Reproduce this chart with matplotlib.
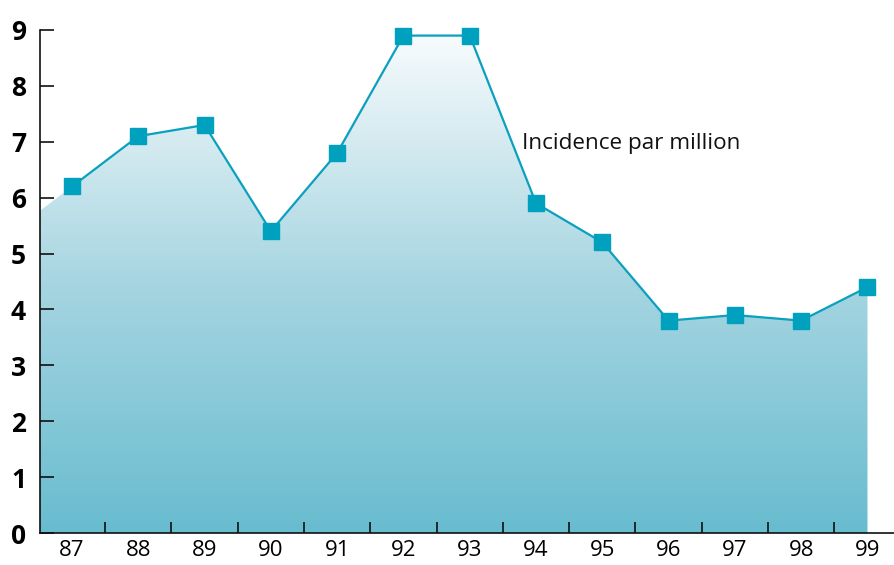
import numpy as np
import matplotlib
matplotlib.use("Agg")
import matplotlib.pyplot as plt
from matplotlib.colors import LinearSegmentedColormap
from matplotlib.patches import Polygon

years = ["87", "88", "89", "90", "91", "92", "93", "94", "95", "96", "97", "98", "99"]
incidence = [6.2, 7.1, 7.3, 5.4, 6.8, 8.9, 8.9, 5.9, 5.2, 3.8, 3.9, 3.8, 4.4]
y_ticks = [0, 1, 2, 3, 4, 5, 6, 7, 8, 9]
label = "Incidence par million"

W, H = 894, 565
fig = plt.figure(figsize=(W / 100, H / 100), dpi=100)
ax = fig.add_axes([40 / W, 32 / H, (W - 40) / W, (533 - 30) / H])

x = np.arange(len(years))
y = np.array(incidence)
xl = -0.483
xr = 12.4
# left edge of the area follows the first segment back to the axis
y_left = y[0] + (y[1] - y[0]) * (xl - x[0])

ax.set_xlim(xl, xr)
ax.set_ylim(0, 9)

poly_x = np.concatenate([[xl], x, [x[-1], xl]])
poly_y = np.concatenate([[y_left], y, [0, 0]])
poly = Polygon(np.column_stack([poly_x, poly_y]), closed=True, facecolor="none", edgecolor="none")
ax.add_patch(poly)

cmap = LinearSegmentedColormap.from_list("g", ["#68bccf", "#a6d5e1", "#f7fbfc"])
grad = np.linspace(0, 1, 256).reshape(-1, 1)
im = ax.imshow(grad, extent=[xl, x[-1], 0, y.max()], origin="lower", aspect="auto",
               cmap=cmap, zorder=1)
im.set_clip_path(poly)

ax.plot(x, y, color="#0aa0be", lw=1.6, marker="s", markersize=11.5,
        markerfacecolor="#00a0bf", markeredgecolor="#00a0bf", zorder=3, clip_on=False)

ax.text(6.79, 6.97, label, fontsize=16.2, family="Open Sans", va="center", ha="left",
        color="#111111")

for s in ["top", "right"]:
    ax.spines[s].set_visible(False)
for s in ["left", "bottom"]:
    ax.spines[s].set_linewidth(1.2)
    ax.spines[s].set_color("#111111")
    ax.spines[s].set_zorder(4)

ax.set_yticks(y_ticks)
ax.set_yticklabels([str(v) for v in y_ticks], fontsize=19, fontweight="bold", family="Open Sans")
ax.tick_params(axis="y", direction="in", length=10, width=1.2, pad=10, color="#111111")

ax.set_xticks(x)
ax.set_xticklabels(years, fontsize=16, family="Open Sans")
ax.tick_params(axis="x", which="major", length=0, pad=5)
ax.set_xticks(np.arange(0.5, len(years) - 1, 1), minor=True)
ax.tick_params(axis="x", which="minor", direction="in", length=8, width=1.2, color="#111111")

fig.savefig("out.png", dpi=100)
